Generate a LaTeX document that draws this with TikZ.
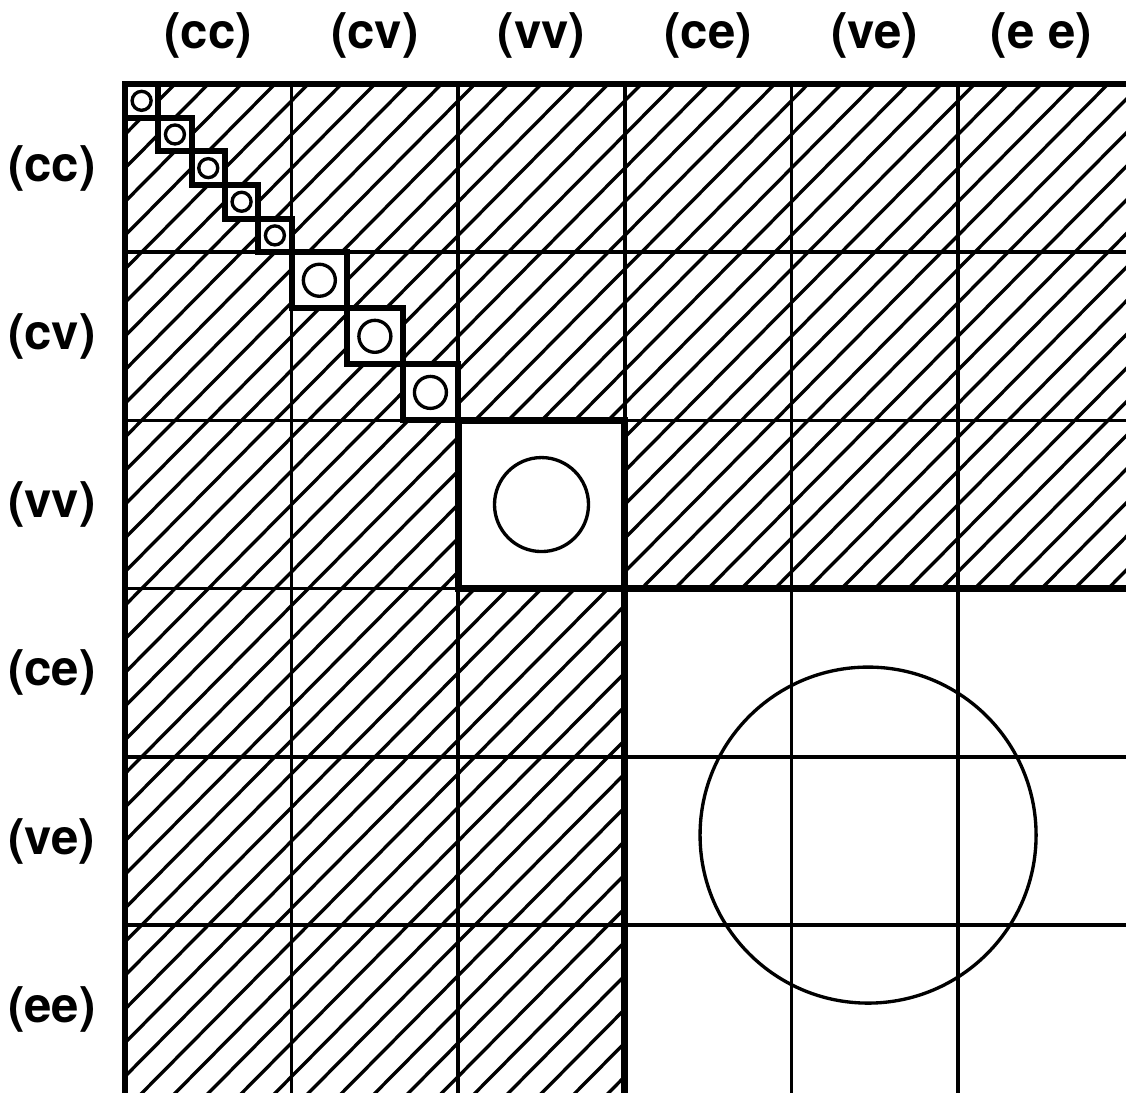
\documentclass[tikz,border=0pt]{standalone}
\usepackage{fontspec}
\setsansfont{TeX Gyre Heros}
\begin{document}
\begin{tikzpicture}[x=1.666cm, y=-1.682cm,
  label text/.style={font=\fontsize{14}{16}\selectfont\sffamily\bfseries, inner sep=0pt},
  hatch/.style={line width=0.95pt},
  gridline/.style={line width=1pt},
  border/.style={line width=1.5pt},
  heavy/.style={line width=1.9pt},
  cellbox/.style={draw, fill=white, line width=1.7pt},
  ring/.style={line width=0.95pt},
]
  \useasboundingbox (-0.75,-0.4994) rectangle (6.008,5.993);
  \clip (-0.75,-0.4994) rectangle (6.008,5.993);

  % Column and row labels
  \foreach \lab [count=\i from 0] in {cc,cv,vv,ce,ve,e e}
    \node[label text] (top-\i) at (\i+0.5,-0.29) {(\lab)};
  \foreach \lab [count=\i from 0] in {cc,cv,vv,ce,ve,ee}
    \node[label text] (side-\i) at (-0.438,\i+0.5) {(\lab)};

  % Hatching over the whole matrix
  \begin{scope}
    \clip (0,0) rectangle (6.2,6.2);
    \foreach \c in {-34,...,31}
      \draw[hatch] (\c/5,6.3) -- ++(6.9,-6.9);
  \end{scope}

  % Blank blocks
  \fill[white] (3,3) rectangle (6.2,6.2);
  \fill[white] (2,2) rectangle (3,3);

  % Grid
  \foreach \k in {1,...,5} {
    \draw[gridline] (\k,0) -- (\k,6.2);
    \draw[gridline] (0,\k) -- (6.2,\k);
  }
  \draw[border] (0,6.2) -- (0,0) -- (6.2,0);
  \draw[heavy] (2,2) rectangle (3,3);
  \draw[heavy] (3,6.2) -- (3,3) -- (6.2,3);

  % Diagonal cells
  \foreach \k in {0,...,4} {
    \draw[cellbox] (\k/5,\k/5) rectangle ++(0.2,0.2);
    \draw[ring] (\k/5+0.1,\k/5+0.1) circle[radius=0.095cm];
  }
  \foreach \k in {0,1,2} {
    \draw[cellbox] (1+\k/3,1+\k/3) rectangle ++(1/3,1/3);
    \draw[ring] (1+\k/3+1/6,1+\k/3+1/6) circle[radius=0.16cm];
  }
  \draw[ring] (2.5,2.5) circle[radius=0.47cm];
  \draw[ring] (4.46,4.465) circle[radius=1.68cm];
\end{tikzpicture}
\end{document}
